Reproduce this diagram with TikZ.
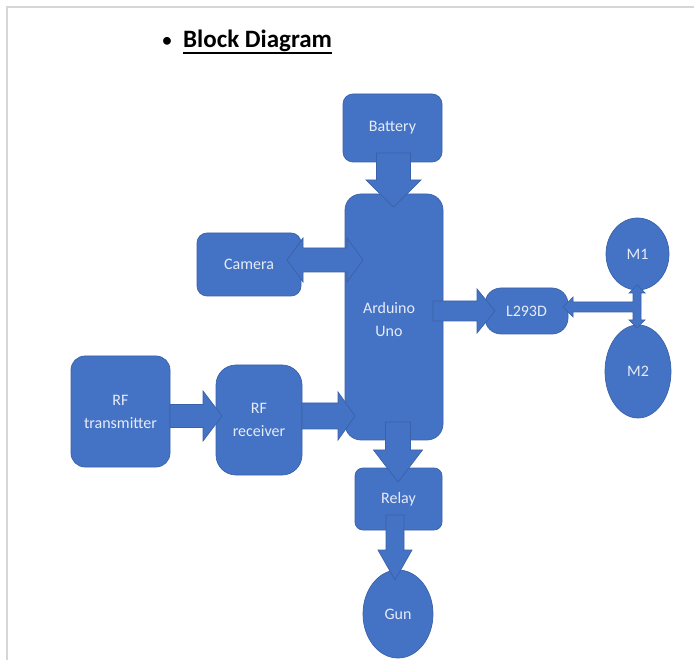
\documentclass[tikz,border=0pt]{standalone}
\usepackage{fontspec}
\setmainfont{Carlito}
\usetikzlibrary{shapes.geometric,calc}
\definecolor{fillblue}{HTML}{4472C4}
\definecolor{edgeblue}{HTML}{3A62A8}
\definecolor{lbl}{HTML}{E6ECF7}
\definecolor{framegray}{HTML}{D6D6D6}
% right-pointing block arrow: x0, xtip, yc, shaft half, head half, head length
\newcommand\rarr[6]{\draw[barrow] (#1,#3-#4) -- (#2-#6,#3-#4) -- (#2-#6,#3-#5) -- (#2,#3) -- (#2-#6,#3+#5) -- (#2-#6,#3+#4) -- (#1,#3+#4) -- cycle;}
% down-pointing block arrow: y0, ytip, xc, shaft half, head half, head length
\newcommand\darr[6]{\draw[barrow] (#3-#4,#1) -- (#3-#4,#2-#6) -- (#3-#5,#2-#6) -- (#3,#2) -- (#3+#5,#2-#6) -- (#3+#4,#2-#6) -- (#3+#4,#1) -- cycle;}
% double horizontal block arrow: xleft tip, xright tip, yc, shaft half, head half, head length
\newcommand\hdarr[6]{\draw[barrow] (#1,#3) -- (#1+#6,#3-#5) -- (#1+#6,#3-#4) -- (#2-#6,#3-#4) -- (#2-#6,#3-#5) -- (#2,#3) -- (#2-#6,#3+#5) -- (#2-#6,#3+#4) -- (#1+#6,#3+#4) -- (#1+#6,#3+#5) -- cycle;}
\begin{document}
\begin{tikzpicture}[x=1pt,y=-1pt,
  blk/.style={draw=edgeblue, fill=fillblue, line width=0.7pt, text=lbl,
    font=\fontsize{16}{23}\selectfont, align=center, inner sep=0pt},
  rbox/.style={blk, rectangle, rounded corners=#1},
  oval/.style={blk, ellipse},
  barrow/.style={draw=edgeblue, fill=fillblue, line width=0.7pt, line join=miter}]
\useasboundingbox (0,0) rectangle (694,660);
\draw[framegray, line width=1.5pt] (7,660) -- (7,7) -- (694,7);

% title
\node[anchor=base, font=\fontsize{22}{26}\selectfont] (bul) at (167,48) {•};
\node[anchor=base west, inner sep=0pt, font=\fontsize{25}{30}\selectfont\bfseries] (title) at (183,48) {Block Diagram};
\draw[line width=1.8pt] ($(title.base west)+(0,5)$) -- ($(title.base east)+(0,5)$);

% blocks
\node[rbox=10pt, minimum width=99pt, minimum height=68pt] (bat) at (392.5,128) {Battery};
\node[rbox=16pt, minimum width=98pt, minimum height=246pt] (ard) at (394,317) {};
\node[text=lbl, font=\fontsize{16}{23}\selectfont, align=center, inner sep=0pt] (ardtxt) at (389,320) {Arduino\\Uno};
\node[rbox=10pt, minimum width=104pt, minimum height=63pt] (cam) at (249,264.5) {Camera};
\node[rbox=16pt, minimum width=83pt, minimum height=46pt] (drv) at (526.5,311) {L293D};
\node[oval, minimum width=63pt, minimum height=72pt] (m1) at (637.5,254) {M1};
\node[oval, minimum width=66pt, minimum height=93pt] (m2) at (638,371.5) {M2};
\node[rbox=14pt, minimum width=99pt, minimum height=111pt] (rft) at (120.5,411.5) {RF\\transmitter};
\node[rbox=20pt, minimum width=86pt, minimum height=110pt] (rfr) at (259,420) {RF\\receiver};
\node[rbox=8pt, minimum width=87pt, minimum height=62pt] (rel) at (398.5,499) {Relay};
\node[oval, minimum width=70pt, minimum height=88pt] (gun) at (398,614) {Gun};

% block arrows
\darr{153}{207}{393.5}{17}{27.5}{27}
\hdarr{287}{363}{260}{12}{22}{16}
\rarr{433}{495}{311}{10}{22}{18}
\draw[barrow] (563,307) -- (573,297) -- (573,302) -- (633,302) -- (633,293) -- (629,293)
  -- (637,285) -- (645,293) -- (641,293) -- (641,320) -- (645,320) -- (637,328)
  -- (629,320) -- (633,320) -- (633,312) -- (573,312) -- (573,317) -- cycle;
\rarr{170}{222}{416}{11.5}{25}{19}
\rarr{302}{355}{416}{13}{24}{17}
\darr{422}{482}{398}{12.5}{24.5}{32}
\darr{515}{580}{395}{9}{17}{30}
\end{tikzpicture}
\end{document}
